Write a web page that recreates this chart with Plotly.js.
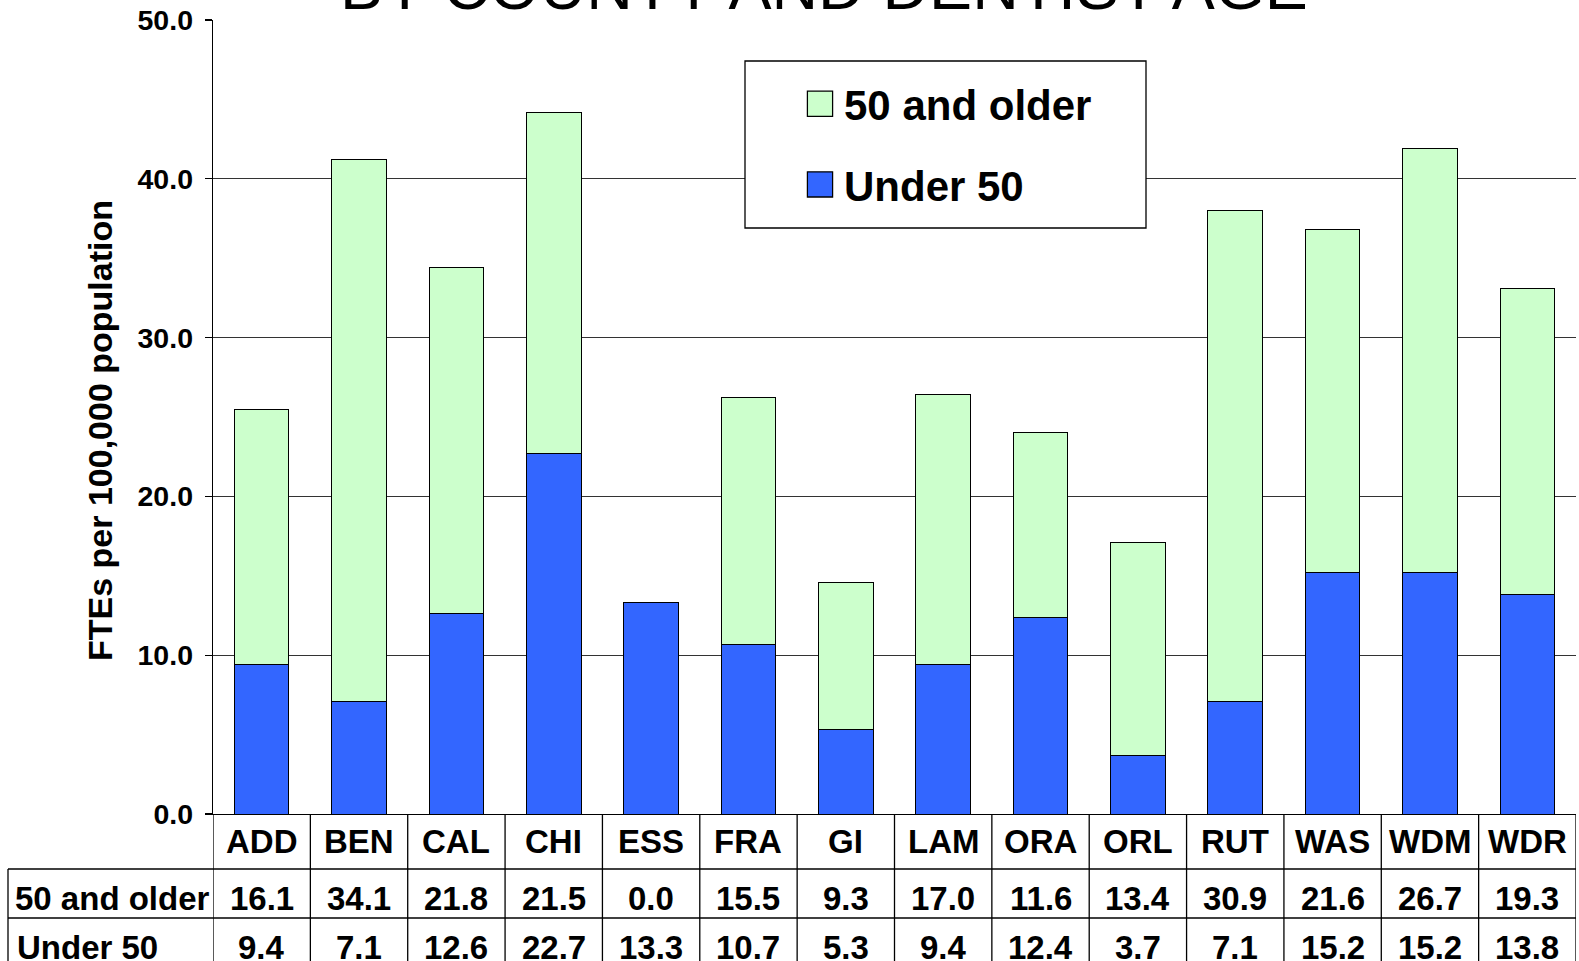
<!DOCTYPE html>
<html>
<head>
<meta charset="utf-8">
<script src="https://cdn.plot.ly/plotly-3.0.1.min.js"></script>
<style>html,body{margin:0;padding:0;background:#fff;}#chart{width:1579px;height:961px;}</style>
</head>
<body>
<div id="chart"></div>
<script>
const categories = ["ADD","BEN","CAL","CHI","ESS","FRA","GI","LAM","ORA","ORL","RUT","WAS","WDM","WDR"];
const older50 = [16.1,34.1,21.8,21.5,0.0,15.5,9.3,17.0,11.6,13.4,30.9,21.6,26.7,19.3];
const under50 = [9.4,7.1,12.6,22.7,13.3,10.7,5.3,9.4,12.4,3.7,7.1,15.2,15.2,13.8];
const seriesNames = ["Under 50","50 and older"];
const yTicks = [0,10,20,30,40,50];

const FONT = '"Liberation Sans", Arial, sans-serif';
const W = 1579, H = 961;
const mL = 213, mR = 3, mT = 20, mB = 147;
const plotH = H - mT - mB;
const plotW = W - mL - mR;
const py = p => (H - mB - p) / plotH;   // pixel y -> paper y
const px = p => (p - mL) / plotW;       // pixel x -> paper x

const traces = [
  {type:'bar', name:seriesNames[0], x:categories, y:under50, legendgroup:'u', legendrank:2,
   marker:{color:'#3366FF', line:{color:'#000', width:1}}, hoverinfo:'x+y+name'},
  {type:'bar', name:seriesNames[1], x:categories, y:older50, legendgroup:'o', legendrank:1,
   marker:{color:'#CCFFCC', line:{color:'#000', width:1}}, hoverinfo:'x+y+name'}
];

const shapes = [];
const annotations = [];
const lineStyle = {color:'#000', width:1.3};
const yBottom = py(H + 5);
// vertical cell lines
for (let i = 0; i <= categories.length; i++) {
  shapes.push({type:'line', xref:'x', yref:'paper', x0:i-0.5, x1:i-0.5, y0:0, y1:yBottom, line:lineStyle});
}
// left border of row label column
shapes.push({type:'line', xref:'paper', yref:'paper', x0:px(8), x1:px(8), y0:py(869), y1:yBottom, line:lineStyle});
// horizontal row lines
[869, 918].forEach(p => {
  shapes.push({type:'line', xref:'paper', yref:'paper', x0:px(8), x1:1, y0:py(p), y1:py(p), line:lineStyle});
});
// legend frame
shapes.push({type:'rect', xref:'paper', yref:'paper', x0:px(745), x1:px(1146), y0:py(228), y1:py(61),
  fillcolor:'#fff', line:{color:'#000', width:1.3}, layer:'above'});

const cellFont = {family:FONT, size:33, color:'#000', weight:'bold'};
categories.forEach((c, i) => {
  annotations.push({xref:'x', yref:'paper', x:c, y:py(841), text:'<b>'+c+'</b>', showarrow:false, font:cellFont, xanchor:'center', yanchor:'middle'});
  annotations.push({xref:'x', yref:'paper', x:c, y:py(899), text:'<b>'+older50[i].toFixed(1)+'</b>', showarrow:false, font:cellFont, xanchor:'center', yanchor:'middle'});
  annotations.push({xref:'x', yref:'paper', x:c, y:py(947), text:'<b>'+under50[i].toFixed(1)+'</b>', showarrow:false, font:cellFont, xanchor:'center', yanchor:'middle'});
});
annotations.push({xref:'paper', yref:'paper', x:px(13), y:py(899), text:'<b>'+seriesNames[1]+'</b>', showarrow:false, font:cellFont, xanchor:'left', yanchor:'middle'});
annotations.push({xref:'paper', yref:'paper', x:px(15), y:py(947), text:'<b>'+seriesNames[0]+'</b>', showarrow:false, font:cellFont, xanchor:'left', yanchor:'middle'});
// y axis title
annotations.push({xref:'paper', yref:'paper', x:px(100), y:py(431), text:'<b>FTEs per 100,000 population</b>',
  textangle:-90, showarrow:false, font:{family:FONT, size:34, color:'#000'}, xanchor:'center', yanchor:'middle'});

const layout = {
  width:W, height:H,
  margin:{l:mL, r:mR, t:mT, b:mB, pad:0},
  paper_bgcolor:'#fff', plot_bgcolor:'#fff',
  barmode:'stack', bargap:0.44,
  font:{family:FONT, color:'#000'},
  title:{text:'BY COUNTY AND DENTIST AGE', font:{family:FONT, size:64.5, color:'#000'},
         xref:'paper', x:px(824), xanchor:'center', yref:'container', y:1-9/H, yanchor:'bottom'},
  xaxis:{type:'category', range:[-0.5, categories.length-0.5], showticklabels:false, ticks:'',
         showgrid:false, zeroline:false, showline:true, linecolor:'#000', linewidth:1.3, fixedrange:true},
  yaxis:{range:[0,50], tickvals:yTicks, ticktext:yTicks.map(v=>v.toFixed(1)), ticks:'outside', ticklen:7,
         tickcolor:'#000', tickwidth:1.3, ticklabelstandoff:6,
         tickfont:{family:FONT, size:28.5, color:'#000', weight:'bold'},
         showgrid:true, gridcolor:'#333', gridwidth:1.3, zeroline:false,
         showline:true, linecolor:'#000', linewidth:1.3,
         fixedrange:true},
  showlegend:true,
  legend:{x:px(804), y:py(70), xanchor:'left', yanchor:'top', bgcolor:'rgba(0,0,0,0)', borderwidth:0,
          traceorder:'grouped', tracegroupgap:23,
          font:{family:FONT, size:42, color:'#000', weight:'bold'}},
  shapes:shapes, annotations:annotations
};

Plotly.newPlot('chart', traces, layout, {displayModeBar:false, staticPlot:true}).then(gd => {
  gd.querySelectorAll('.legend .legendpoints path').forEach(p => {
    const t = p.getAttribute('transform') || '';
    p.setAttribute('transform', t + ' translate(-4,0) scale(2.1)');
    p.style.strokeWidth = '0.6px';
  });
});
</script>
</body>
</html>
